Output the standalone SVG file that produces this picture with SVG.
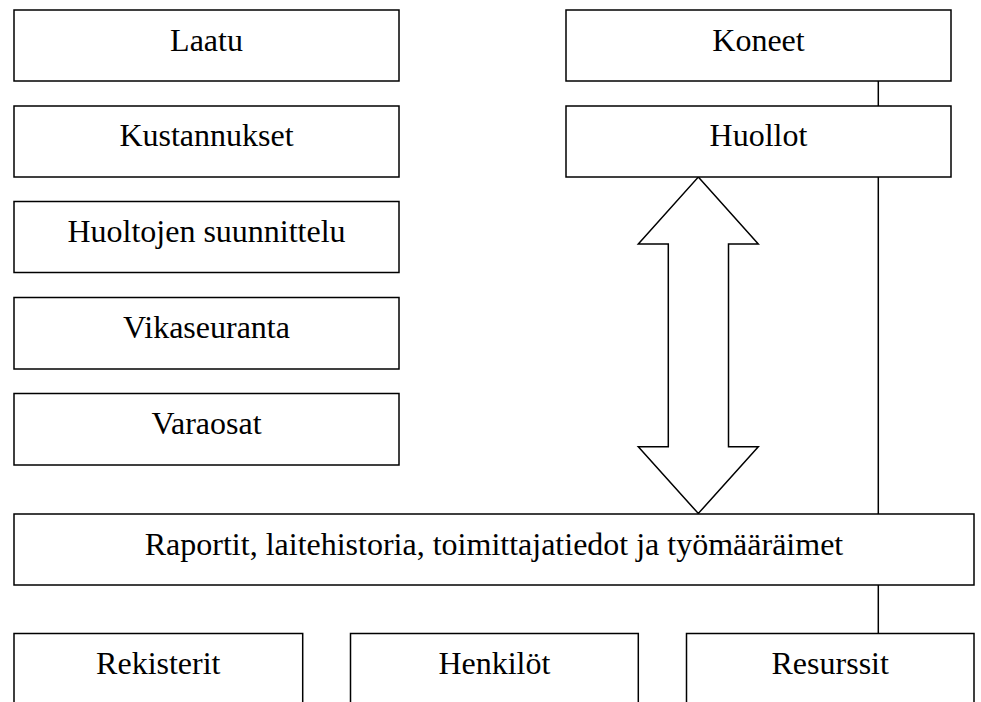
<svg xmlns="http://www.w3.org/2000/svg" width="981" height="702" viewBox="0 0 981 702">
<style>
.box{fill:#fff;stroke:#000;stroke-width:1.5}
.lbl{font-size:32px;fill:#000;text-anchor:middle}
.conn{fill:none;stroke:#000;stroke-width:1.5}
.arrow{fill:#fff;stroke:#000;stroke-width:1.5;stroke-linejoin:miter}
</style>
<rect width="981" height="702" fill="#fff"/>
<g id="connectors">
<line class="conn" x1="878.3" y1="81" x2="878.3" y2="106"/>
<line class="conn" x1="878.3" y1="177" x2="878.3" y2="514"/>
<line class="conn" x1="878.3" y1="585" x2="878.3" y2="633.5"/>
<polygon class="arrow" points="698.3,177 758.3,244 728.5,244 728.5,446.7 758.3,446.7 698.3,513.5 638.3,446.7 668.3,446.7 668.3,244 638.3,244"/>
</g>
<g font-family="'Liberation Serif', 'Times New Roman', 'DejaVu Serif', serif">
<g id="laatu"><rect class="box" x="14" y="10" width="385" height="71"/><text class="lbl" x="206.5" y="50.5">Laatu</text></g>
<g id="kustannukset"><rect class="box" x="14" y="106" width="385" height="71"/><text class="lbl" x="206.5" y="146">Kustannukset</text></g>
<g id="huoltojen-suunnittelu"><rect class="box" x="14" y="201.5" width="385" height="71"/><text class="lbl" x="206.5" y="242">Huoltojen suunnittelu</text></g>
<g id="vikaseuranta"><rect class="box" x="14" y="297.5" width="385" height="71.5"/><text class="lbl" x="206.5" y="338">Vikaseuranta</text></g>
<g id="varaosat"><rect class="box" x="14" y="393.5" width="385" height="71.5"/><text class="lbl" x="206.5" y="433.5">Varaosat</text></g>
<g id="koneet"><rect class="box" x="566" y="10" width="385" height="71"/><text class="lbl" x="758.5" y="50.5">Koneet</text></g>
<g id="huollot"><rect class="box" x="566" y="106" width="385" height="71"/><text class="lbl" x="758.5" y="146">Huollot</text></g>
<g id="raportit"><rect class="box" x="14" y="514" width="960" height="71"/><text class="lbl" x="494" y="555">Raportit, laitehistoria, toimittajatiedot ja työmääräimet</text></g>
<g id="rekisterit"><rect class="box" x="14" y="633.5" width="288.7" height="100"/><text class="lbl" x="158.3" y="673.5">Rekisterit</text></g>
<g id="henkilot"><rect class="box" x="350.5" y="633.5" width="287.8" height="100"/><text class="lbl" x="494.4" y="673.5">Henkilöt</text></g>
<g id="resurssit"><rect class="box" x="686.5" y="633.5" width="287.5" height="100"/><text class="lbl" x="830.2" y="673.5">Resurssit</text></g>
</g>
</svg>
